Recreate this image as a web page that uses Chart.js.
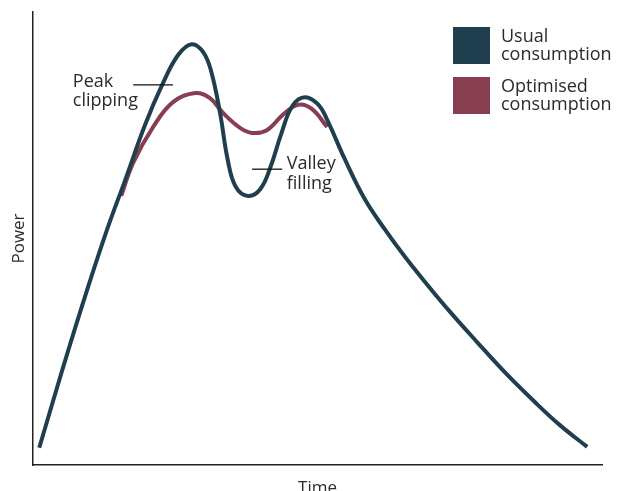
<!DOCTYPE html>
<html>
<head>
<meta charset="utf-8">
<script src="https://cdn.jsdelivr.net/npm/chart.js@4/dist/chart.umd.min.js"></script>
<style>
  html, body { margin: 0; padding: 0; background: #fff; }
  #wrap { width: 617px; height: 491px; }
</style>
</head>
<body>
<div id="wrap"><canvas id="c" width="617" height="491"></canvas></div>
<script>
const usualTime  = [1.1, 5.3, 9.5, 13.0, 16.2, 19.7, 22.7, 25.5, 27.9, 30.0, 31.4, 32.9, 34.2, 35.6, 37.8, 40.0, 41.8, 43.6, 45.6, 47.8, 50.1, 51.7, 54.8, 58.3, 61.9, 65.4, 68.9, 73.3, 78.0, 82.9, 88.2, 92.6, 97.4];
const usualPower = [3.8, 21.6, 38.6, 51.9, 62.9, 75.1, 83.9, 90.5, 92.9, 91.0, 86.5, 77.5, 67.5, 61.5, 59.4, 61.0, 66.0, 73.0, 79.3, 81.2, 79.6, 76.2, 67.5, 58.7, 51.9, 45.9, 40.4, 33.8, 27.2, 20.5, 13.9, 8.8, 4.0];

const optimisedTime  = [15.5, 17.6, 21.1, 24.6, 28.5, 31.1, 33.4, 36.4, 38.5, 41.1, 43.9, 46.6, 49.0, 51.7];
const optimisedPower = [59.4, 66.7, 74.6, 80.1, 82.1, 81.0, 77.7, 74.4, 73.3, 73.9, 77.3, 79.5, 78.6, 74.6];

const seriesNames  = ['Usual consumption', 'Optimised consumption'];
const seriesColors = ['#1f3f4f', '#883d51'];

// callouts: short line + two text lines, anchored in data units
const callouts = [
  { text: ['Peak', 'clipping'], lineFrom: 17.6, lineTo: 24.6, lineY: 83.9, textX: 7.0, textDy: 2 },
  { text: ['Valley', 'filling'], lineFrom: 38.5, lineTo: 43.8, lineY: 65.3, textX: 44.6, textDy: 0 }
];

const FONT = '18px "Open Sans", sans-serif';
const TEXT = '#2b2b2b';

function toPoints(xs, ys) {
  return xs.map((x, i) => ({ x: x, y: ys[i] }));
}

// legend drawn at top right: square swatch + label split over two lines
const legendBoxes = {
  id: 'legendBoxes',
  afterDatasetsDraw(chart) {
    const ctx = chart.ctx;
    ctx.save();
    ctx.font = FONT;
    ctx.textBaseline = 'alphabetic';
    chart.data.datasets.forEach((ds, i) => {
      const top = 27 + i * 50;
      ctx.fillStyle = ds.borderColor;
      ctx.fillRect(453, top, 37, 37);
      ctx.fillStyle = TEXT;
      ds.label.split(' ').forEach((w, j) => {
        ctx.fillText(w, 501, top + 15 + j * 18);
      });
    });
    ctx.restore();
  }
};

const calloutPlugin = {
  id: 'callouts',
  afterDatasetsDraw(chart) {
    const ctx = chart.ctx;
    const xs = chart.scales.x, ys = chart.scales.y;
    ctx.save();
    ctx.strokeStyle = '#111';
    ctx.lineWidth = 1.3;
    ctx.font = FONT;
    ctx.fillStyle = TEXT;
    callouts.forEach(c => {
      const py = ys.getPixelForValue(c.lineY);
      ctx.beginPath();
      ctx.moveTo(xs.getPixelForValue(c.lineFrom), py);
      ctx.lineTo(xs.getPixelForValue(c.lineTo), py);
      ctx.stroke();
      const tx = xs.getPixelForValue(c.textX);
      c.text.forEach((t, j) => {
        ctx.fillText(t, tx, py + c.textDy + j * 19.5);
      });
    });
    ctx.restore();
  }
};

new Chart(document.getElementById('c'), {
  type: 'line',
  data: {
    datasets: [
      {
        label: seriesNames[0],
        data: toPoints(usualTime, usualPower),
        borderColor: seriesColors[0],
        borderWidth: 4,
        pointRadius: 0,
        tension: 0.4,
        fill: false
      },
      {
        label: seriesNames[1],
        data: toPoints(optimisedTime, optimisedPower),
        borderColor: seriesColors[1],
        borderWidth: 4,
        pointRadius: 0,
        tension: 0.4,
        fill: false
      }
    ]
  },
  options: {
    responsive: false,
    animation: false,
    devicePixelRatio: 1,
    layout: { padding: { top: 12, right: 15, left: 0, bottom: 0 } },
    plugins: { legend: { display: false }, tooltip: { enabled: false } },
    scales: {
      x: {
        type: 'linear', min: 0, max: 100,
        ticks: { display: false },
        grid: { display: false },
        border: { display: true, color: '#222', width: 1.5 },
        title: { display: true, text: 'Time', color: TEXT, font: { family: '"Open Sans", sans-serif', size: 17 }, padding: { top: 0, bottom: -7 } },
        afterFit(s) { s.height = 26; }
      },
      y: {
        type: 'linear', min: 0, max: 100,
        ticks: { display: false },
        grid: { display: false },
        border: { display: true, color: '#222', width: 1.5 },
        title: { display: true, text: 'Power', color: TEXT, font: { family: '"Open Sans", sans-serif', size: 17 }, padding: { top: 9, bottom: 0 } },
        afterFit(s) { s.width = 33; }
      }
    }
  },
  plugins: [legendBoxes, calloutPlugin]
});
</script>
</body>
</html>
